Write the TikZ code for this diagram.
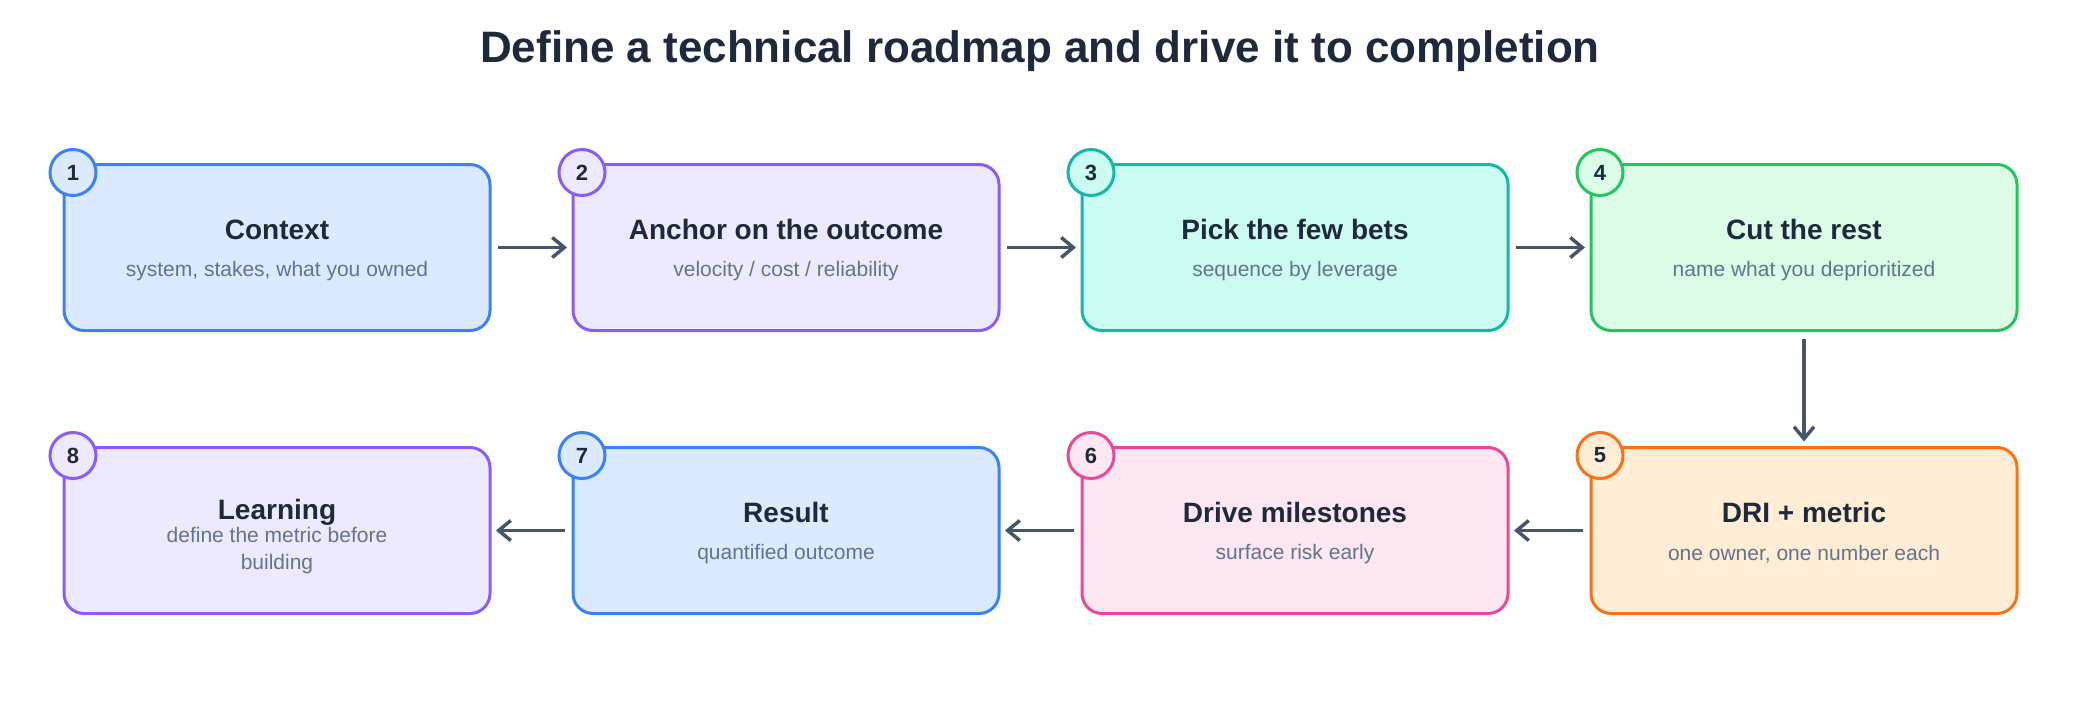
\documentclass[tikz,border=0pt]{standalone}
\usepackage{fontspec}
\setmainfont{Liberation Sans}
\usetikzlibrary{positioning, arrows.meta}

\definecolor{ink}{HTML}{1E293B}
\definecolor{muted}{HTML}{64748B}
\definecolor{arr}{HTML}{475569}
\definecolor{blueL}{HTML}{3B82F6}\definecolor{blueF}{HTML}{DBEAFE}
\definecolor{purpL}{HTML}{8B5CF6}\definecolor{purpF}{HTML}{EDE9FE}
\definecolor{tealL}{HTML}{14B8A6}\definecolor{tealF}{HTML}{CCFBF1}
\definecolor{grnL}{HTML}{22C55E}\definecolor{grnF}{HTML}{DCFCE7}
\definecolor{orgL}{HTML}{F97316}\definecolor{orgF}{HTML}{FFEDD5}
\definecolor{pinkL}{HTML}{EC4899}\definecolor{pinkF}{HTML}{FCE7F3}

\tikzset{
	step/.style={draw=#1L, fill=#1F, line width=3pt, rounded corners=20pt,
		minimum width=426pt, minimum height=166pt, inner sep=0pt, outer sep=0pt},
	badge/.style={circle, draw=#1L, fill=#1F, line width=3pt, minimum size=46pt,
		inner sep=0pt, font=\fontsize{22}{24}\selectfont\bfseries, text=ink},
	head/.style={font=\fontsize{28}{30}\selectfont\bfseries, text=ink},
	sub/.style={font=\fontsize{21}{27}\selectfont, text=muted, align=center},
	flow/.style={-{Straight Barb[length=12pt, width=20pt, line width=3.5pt]},
		draw=arr, line width=3.5pt, shorten <=8pt, shorten >=6pt}
}

\begin{document}
\begin{tikzpicture}[x=1pt, y=-1pt]
	\useasboundingbox (0,0) rectangle (2080,704);
	\node[font=\fontsize{44}{48}\selectfont\bfseries, text=ink] (title) at (1040,51)
		{Define a technical roadmap and drive it to completion};

	\node[step=blue] (b1) at (277,247.5) {};
	\node[step=purp, right=83pt of b1] (b2) {};
	\node[step=teal, right=83pt of b2] (b3) {};
	\node[step=grn,  right=83pt of b3] (b4) {};
	\node[step=org,  below=117pt of b4] (b5) {};
	\node[step=pink, left=83pt of b5] (b6) {};
	\node[step=blue, left=83pt of b6] (b7) {};
	\node[step=purp, left=83pt of b7] (b8) {};

	\foreach \b/\c/\n in {b1/blue/1, b2/purp/2, b3/teal/3, b4/grn/4,
			b5/org/5, b6/pink/6, b7/blue/7, b8/purp/8}
		\node[badge=\c] (n\n) at ([xshift=9pt, yshift=-8pt]\b.north west) {\n};

	\node[head] (t1) at ([yshift=18pt]b1.center) {Context};
	\node[sub]  (s1) at ([yshift=-24pt]b1.center) {system, stakes, what you owned};
	\node[head] (t2) at ([yshift=18pt]b2.center) {Anchor on the outcome};
	\node[sub]  (s2) at ([yshift=-24pt]b2.center) {velocity / cost / reliability};
	\node[head] (t3) at ([yshift=18pt]b3.center) {Pick the few bets};
	\node[sub]  (s3) at ([yshift=-24pt]b3.center) {sequence by leverage};
	\node[head] (t4) at ([yshift=18pt]b4.center) {Cut the rest};
	\node[sub]  (s4) at ([yshift=-24pt]b4.center) {name what you deprioritized};
	\node[head] (t5) at ([yshift=18pt]b5.center) {DRI + metric};
	\node[sub]  (s5) at ([yshift=-24pt]b5.center) {one owner, one number each};
	\node[head] (t6) at ([yshift=18pt]b6.center) {Drive milestones};
	\node[sub]  (s6) at ([yshift=-24pt]b6.center) {surface risk early};
	\node[head] (t7) at ([yshift=18pt]b7.center) {Result};
	\node[sub]  (s7) at ([yshift=-24pt]b7.center) {quantified outcome};
	\node[head] (t8) at ([yshift=18pt]b8.center) {Learning};
	\node[sub]  (s8) at ([yshift=-20pt]b8.center) {define the metric before\\building};

	\draw[flow] (b1) -- (b2);
	\draw[flow] (b2) -- (b3);
	\draw[flow] (b3) -- (b4);
	\draw[flow] (b4) -- (b5);
	\draw[flow] (b5) -- (b6);
	\draw[flow] (b6) -- (b7);
	\draw[flow] (b7) -- (b8);
\end{tikzpicture}
\end{document}
